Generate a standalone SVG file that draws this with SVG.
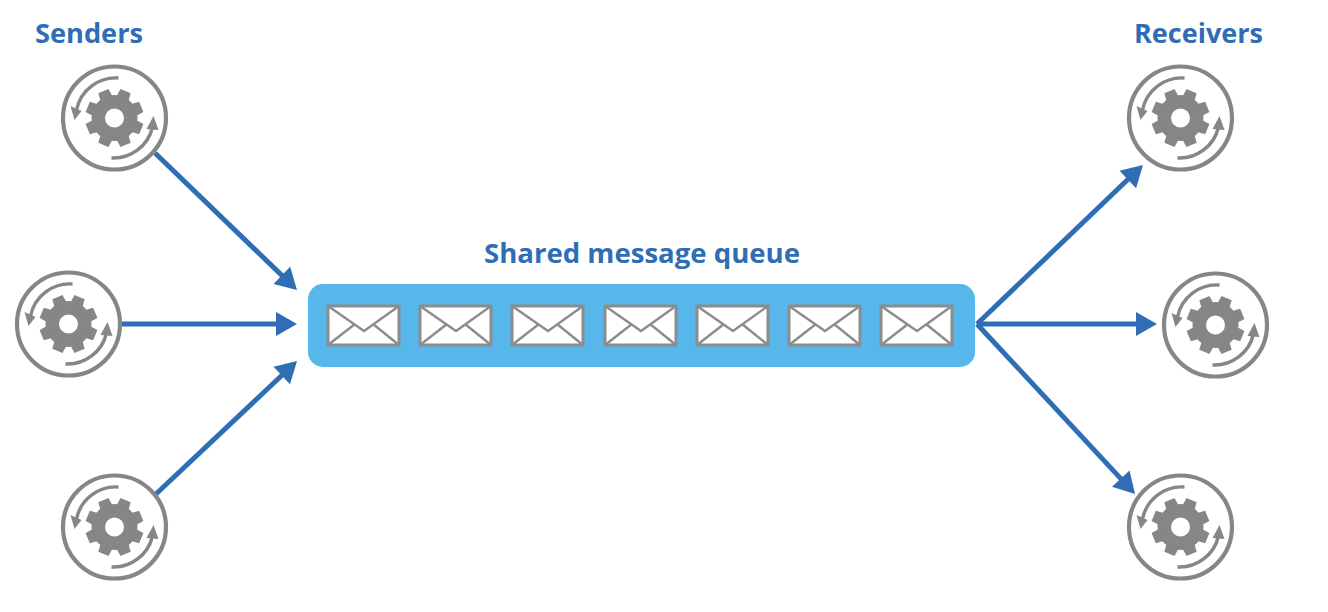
<svg xmlns="http://www.w3.org/2000/svg" xmlns:xlink="http://www.w3.org/1999/xlink" width="1328" height="612" viewBox="0 0 1328 612">
<style>
.lbl{font-family:"Open Sans","Liberation Sans",sans-serif;font-weight:700;font-size:26.5px;fill:#2f6db5}
.ring{fill:#fff;stroke:#848688;stroke-width:4.2}
.arc{fill:none;stroke:#848688;stroke-width:3.4}
.ah{fill:#848688}
.gear{fill:#848688}
.env{fill:#fff;stroke:#8a8c8e;stroke-width:3;stroke-linejoin:round}
.envl{fill:none;stroke:#8a8c8e;stroke-width:2.4}
.con{fill:none;stroke:#2f6db5;stroke-width:5}
</style>
<defs>
<marker id="arrow" viewBox="0 0 26 26" refX="16" refY="13" markerWidth="26" markerHeight="26" markerUnits="userSpaceOnUse" orient="auto">
<path d="M3 1L24 13L3 25Z" fill="#2f6db5"/>
</marker>
<path id="tooth" d="M-6.5 -20L-5.5 -29L5.5 -29L6.5 -20Z"/>
<g id="worker">
<circle class="ring" r="51.5"/>
<path class="arc" d="M4 -40A40 40 0 0 0 -38 -8"/>
<path class="ah" d="M-40 2L-44 -12L-33 -7Z"/>
<path class="arc" d="M-3 40A40 40 0 0 0 38 9"/>
<path class="ah" d="M39 -2L32 11L44 12Z"/>
<g class="gear">
<path fill-rule="evenodd" d="M0 -23A23 23 0 1 1 0 23A23 23 0 1 1 0 -23ZM0 -9.5A9.5 9.5 0 1 0 0 9.5A9.5 9.5 0 1 0 0 -9.5Z"/>
<use xlink:href="#tooth" href="#tooth" transform="rotate(22.5)"/>
<use xlink:href="#tooth" href="#tooth" transform="rotate(67.5)"/>
<use xlink:href="#tooth" href="#tooth" transform="rotate(112.5)"/>
<use xlink:href="#tooth" href="#tooth" transform="rotate(157.5)"/>
<use xlink:href="#tooth" href="#tooth" transform="rotate(202.5)"/>
<use xlink:href="#tooth" href="#tooth" transform="rotate(247.5)"/>
<use xlink:href="#tooth" href="#tooth" transform="rotate(292.5)"/>
<use xlink:href="#tooth" href="#tooth" transform="rotate(337.5)"/>
</g>
</g>
<g id="envelope">
<rect class="env" x="0" y="0" width="71" height="39"/>
<path class="envl" d="M0 0L36 25L71 0M0 39L27 18M71 39L45 18"/>
</g>
</defs>
<rect width="1328" height="612" fill="#fff"/>
<g id="connectors">
<path class="con" marker-end="url(#arrow)" d="M155 153L291.2 284.4"/>
<path class="con" marker-end="url(#arrow)" d="M122 324L289 324"/>
<path class="con" marker-end="url(#arrow)" d="M156 494L291.2 366.5"/>
<path class="con" marker-end="url(#arrow)" d="M977 324L1137.2 170.5"/>
<path class="con" marker-end="url(#arrow)" d="M977 324L1149 324"/>
<path class="con" marker-end="url(#arrow)" d="M977 324L1129.6 488.1"/>
</g>
<g id="queue">
<rect x="308" y="284" width="667" height="83" rx="15" fill="#58b7ea"/>
<use xlink:href="#envelope" href="#envelope" x="328" y="306"/>
<use xlink:href="#envelope" href="#envelope" x="420" y="306"/>
<use xlink:href="#envelope" href="#envelope" x="512" y="306"/>
<use xlink:href="#envelope" href="#envelope" x="605" y="306"/>
<use xlink:href="#envelope" href="#envelope" x="697" y="306"/>
<use xlink:href="#envelope" href="#envelope" x="789" y="306"/>
<use xlink:href="#envelope" href="#envelope" x="881" y="306"/>
<text class="lbl" x="484" y="263" textLength="316" lengthAdjust="spacingAndGlyphs">Shared message queue</text>
</g>
<g id="sender1"><use xlink:href="#worker" href="#worker" x="114.5" y="118"/></g>
<g id="sender2"><use xlink:href="#worker" href="#worker" x="68.5" y="324"/></g>
<g id="sender3"><use xlink:href="#worker" href="#worker" x="114.5" y="527"/></g>
<g id="receiver1"><use xlink:href="#worker" href="#worker" x="1180.5" y="118"/></g>
<g id="receiver2"><use xlink:href="#worker" href="#worker" x="1215.5" y="325"/></g>
<g id="receiver3"><use xlink:href="#worker" href="#worker" x="1180.5" y="527"/></g>
<text id="senders" class="lbl" x="35" y="43" textLength="108" lengthAdjust="spacingAndGlyphs">Senders</text>
<text id="receivers" class="lbl" x="1134" y="43" textLength="129" lengthAdjust="spacingAndGlyphs">Receivers</text>
</svg>
